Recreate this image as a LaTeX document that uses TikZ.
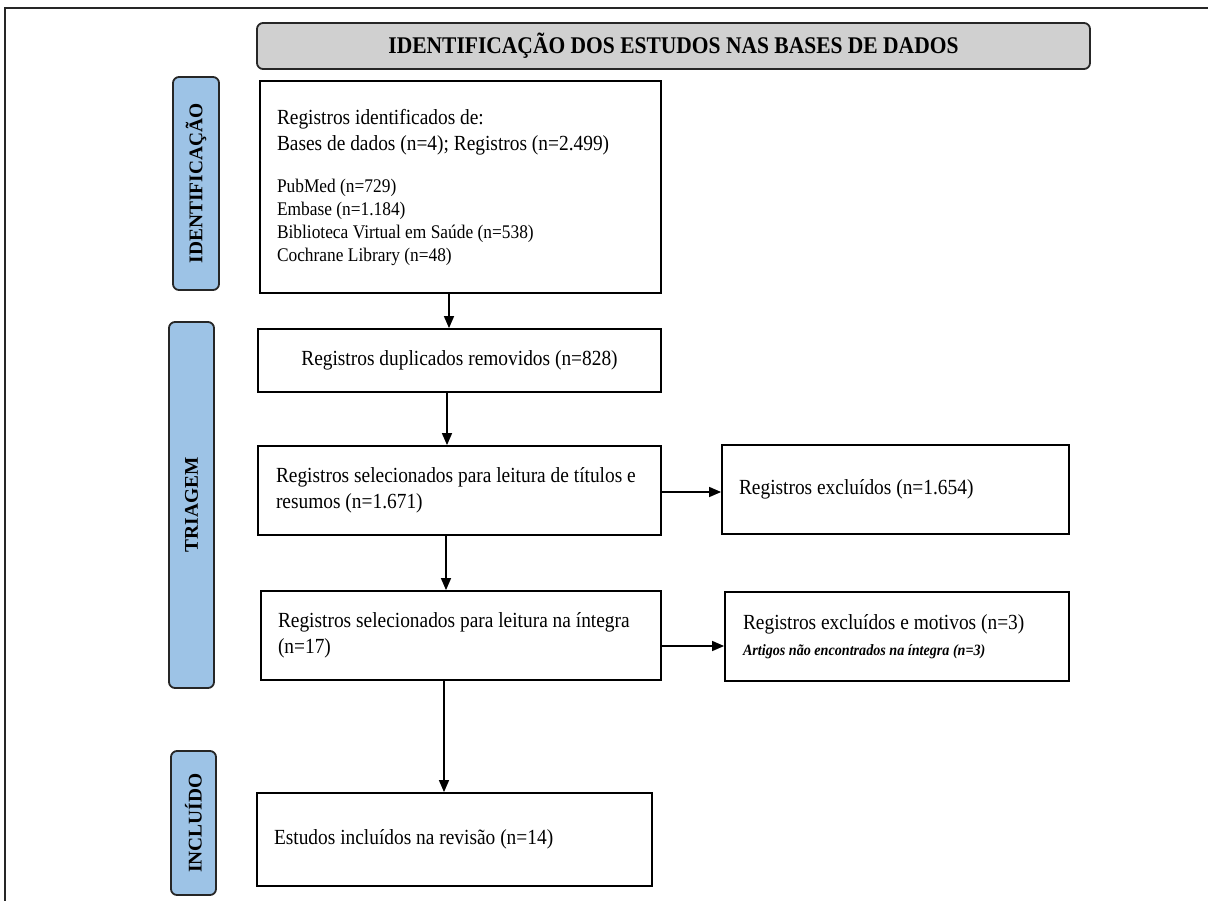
\documentclass[tikz,border=0pt]{standalone}
\usepackage{fontspec}
\setmainfont{Liberation Serif}[FakeStretch=0.9]
\newfontfamily\lblfont{Liberation Serif}
\usetikzlibrary{arrows.meta}
\definecolor{lblue}{HTML}{9DC3E6}
\definecolor{tgray}{HTML}{D0D0D0}
\begin{document}
\begin{tikzpicture}[x=1pt,y=-1pt,
  box/.style={draw=black, line width=1.8pt, fill=white, inner sep=0pt, align=flush left,
    font=\fontsize{21.55}{26}\selectfont},
  stage/.style={draw=black!85, line width=1.8pt, fill=lblue, rounded corners=6pt,
    rotate=90, font=\lblfont\fontsize{19.4}{22}\selectfont\bfseries, inner sep=0pt},
  arr/.style={line width=1.4pt, -{Triangle[length=12pt,width=10pt]}}]
\useasboundingbox (0,0) rectangle (1208,900);
\draw[line width=1.5pt, black!85] (5,910) -- (5,8) -- (1215,8);

\node[draw=black!85, line width=1.8pt, fill=tgray, rounded corners=6pt,
  minimum width=833pt, minimum height=46pt, inner sep=0pt,
  font=\fontsize{23.9}{26}\selectfont\bfseries] (title) at (673.5,46)
  {IDENTIFICAÇÃO DOS ESTUDOS NAS BASES DE DADOS};

\node[stage, minimum width=213pt, minimum height=46pt] (sid) at (196,183.5) {IDENTIFICAÇÃO};
\node[stage, minimum width=366pt, minimum height=45pt] (str) at (191.5,505) {TRIAGEM};
\node[stage, minimum width=144pt, minimum height=45pt] (sin) at (193.5,823) {INCLUÍDO};

\node[box, minimum width=401pt, minimum height=212pt, inner xsep=17pt, text width=367pt] (b1) at (460.5,187)
  {{\fontsize{21.55}{26}\selectfont Registros identificados de:\\Bases de dados (n=4); Registros (n=2.499)\par}\vspace{19pt}%
   {\fontsize{19.3}{23}\selectfont PubMed (n=729)\\Embase (n=1.184)\\Biblioteca Virtual em Saúde (n=538)\\Cochrane Library (n=48)\par}};

\node[box, align=flush center, minimum width=403pt, minimum height=63pt, text width=367pt] (b2) at (459.5,360.5)
  {Registros duplicados removidos (n=828)};

\node[box, minimum width=403pt, minimum height=89pt, inner xsep=18pt, text width=367pt] (b3) at (459.5,490.5)
  {Registros selecionados para leitura de títulos e\\resumos (n=1.671)};

\node[box, minimum width=400pt, minimum height=89pt, inner xsep=17pt, text width=366pt] (b4) at (461,635.5)
  {Registros selecionados para leitura na íntegra\\(n=17)};

\node[box, minimum width=395pt, minimum height=93pt, inner xsep=17pt, text width=361pt] (b5) at (454.5,839.5)
  {Estudos incluídos na revisão (n=14)};

\node[box, minimum width=347pt, minimum height=89pt, inner xsep=17pt, text width=313pt] (r1) at (895.5,489.5)
  {Registros excluídos (n=1.654)};

\node[box, minimum width=344pt, minimum height=89pt, inner xsep=18pt, text width=308pt] (r2) at (897,636.5)
  {\vspace*{3pt}{\fontsize{21.55}{23}\selectfont Registros excluídos e motivos (n=3)\par}%
   {\fontsize{15.7}{23}\selectfont\bfseries\itshape Artigos não encontrados na íntegra (n=3)\par}};

\draw[arr] ([xshift=-11.5pt]b1.south) -- ([xshift=-11.5pt]b1.south |- b2.north);
\draw[arr] ([xshift=-12.5pt]b2.south) -- ([xshift=-12.5pt]b2.south |- b3.north);
\draw[arr] ([xshift=-13.5pt]b3.south) -- ([xshift=-13.5pt]b3.south |- b4.north);
\draw[arr] ([xshift=-17pt]b4.south) -- ([xshift=-17pt]b4.south |- b5.north);
\draw[arr] ([yshift=-1.5pt]b3.east) -- ([yshift=-1.5pt]b3.east -| r1.west);
\draw[arr] ([yshift=-10.5pt]b4.east) -- ([yshift=-10.5pt]b4.east -| r2.west);
\end{tikzpicture}
\end{document}
